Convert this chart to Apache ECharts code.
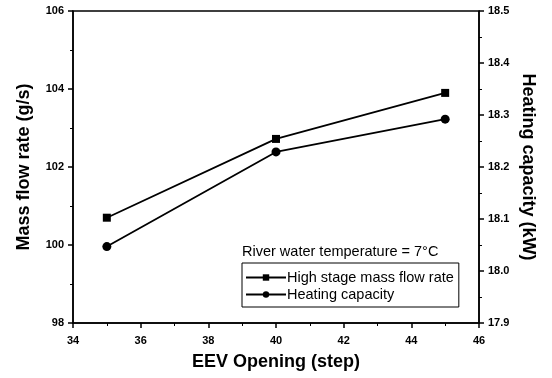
<!DOCTYPE html>
<html><head><meta charset="utf-8">
<script src="https://cdn.jsdelivr.net/npm/echarts@6/dist/echarts.min.js"></script>
<style>html,body{margin:0;padding:0;background:#fff}#c{width:552px;height:378px}</style>
</head><body><div id="c"></div>
<script>
const eevOpening = [35, 40, 45];
const massFlowRate = [100.7, 102.72, 103.9];
const heatingCapacity = [18.047, 18.229, 18.292];
const seriesNames = ['High stage mass flow rate', 'Heating capacity'];
const noteText = 'River water temperature = 7°C';

const chart = echarts.init(document.getElementById('c'));
const F = 'Liberation Sans, Arial, sans-serif';
const axisCommon = {
  axisLine: {show: true, lineStyle: {color: '#000', width: 1.5}},
  axisTick: {show: true, inside: false, length: 5, lineStyle: {color: '#000', width: 1.5}},
  minorTick: {show: true, splitNumber: 2, length: 3, lineStyle: {color: '#000', width: 1}},
  splitLine: {show: false},
  nameMoveOverlap: false,
  axisLabel: {color: '#000', fontFamily: F, fontWeight: 'bold', fontSize: 11},
  nameTextStyle: {color: '#000', fontFamily: F, fontWeight: 'bold', fontSize: 18}
};
chart.setOption({
  animation: false,
  backgroundColor: '#fff',
  grid: {left: 73, right: 73, top: 11, bottom: 55, show: true, borderColor: '#000', borderWidth: 1.5},
  xAxis: Object.assign({}, axisCommon, {
    type: 'value', min: 34, max: 46, interval: 2,
    name: 'EEV Opening (step)', nameLocation: 'middle', nameGap: 30,
    axisLabel: Object.assign({}, axisCommon.axisLabel, {margin: 12})
  }),
  yAxis: [
    Object.assign({}, axisCommon, {
      type: 'value', min: 98, max: 106, interval: 2, position: 'left',
      name: 'Mass flow rate (g/s)', nameLocation: 'middle', nameGap: 40,
      axisLabel: Object.assign({}, axisCommon.axisLabel, {margin: 9})
    }),
    Object.assign({}, axisCommon, {
      type: 'value', min: 17.9, max: 18.5, interval: 0.1, position: 'right',
      name: 'Heating capacity (kW)', nameLocation: 'middle', nameGap: 40, nameRotate: -90,
      axisLabel: Object.assign({}, axisCommon.axisLabel, {margin: 9, formatter: v => v.toFixed(1)})
    })
  ],
  legend: {
    orient: 'vertical', left: 242, top: 263, padding: [7, 5, 5, 3], itemGap: 2,
    itemWidth: 40, itemHeight: 8,
    borderColor: '#000', borderWidth: 1, borderRadius: 0,
    textStyle: {color: '#000', fontFamily: F, fontSize: 14.5, padding: [0, 0, 0, -4]},
    data: seriesNames
  },
  graphic: [{
    type: 'text', left: 242, top: 244,
    style: {text: noteText, fill: '#000', font: '14.5px ' + F}
  }],
  series: [
    {
      name: seriesNames[0], type: 'line', yAxisIndex: 0,
      data: eevOpening.map((x, i) => [x, massFlowRate[i]]),
      symbol: 'rect', symbolSize: 8,
      lineStyle: {color: '#000', width: 1.8}, itemStyle: {color: '#000'}
    },
    {
      name: seriesNames[1], type: 'line', yAxisIndex: 1,
      data: eevOpening.map((x, i) => [x, heatingCapacity[i]]),
      symbol: 'circle', symbolSize: 9,
      lineStyle: {color: '#000', width: 1.8}, itemStyle: {color: '#000'}
    }
  ]
});
</script></body></html>
